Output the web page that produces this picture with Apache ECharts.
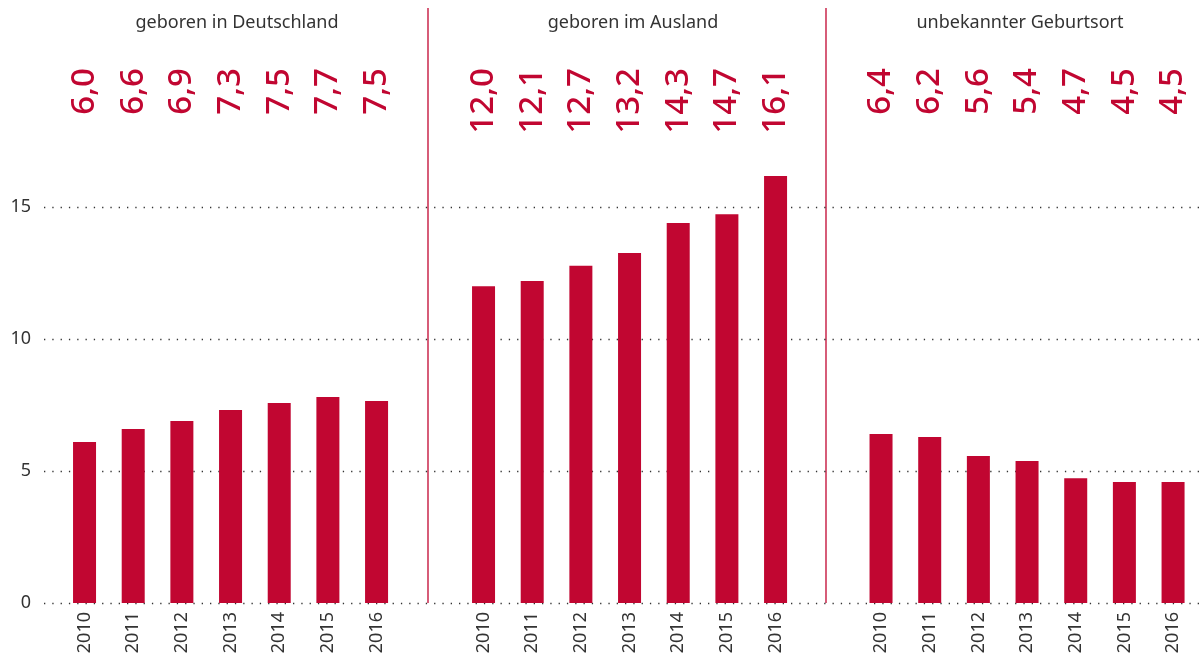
<!DOCTYPE html>
<html>
<head>
<meta charset="utf-8">
<script src="https://cdn.jsdelivr.net/npm/echarts@6/dist/echarts.min.js"></script>
<style>
html,body{margin:0;padding:0;background:#fff;}
#chart{width:1201px;height:658px;}
</style>
</head>
<body>
<div id="chart"></div>
<script>
var years = ['2010','2011','2012','2013','2014','2015','2016'];
var panelTitles = ['geboren in Deutschland','geboren im Ausland','unbekannter Geburtsort'];
var valuesDeutschland = [6.1, 6.59, 6.89, 7.31, 7.58, 7.8, 7.65];
var valuesAusland = [12.0, 12.2, 12.77, 13.26, 14.39, 14.73, 16.17];
var valuesUnbekannt = [6.4, 6.29, 5.57, 5.38, 4.73, 4.58, 4.58];
var labelsDeutschland = ['6,0','6,6','6,9','7,3','7,5','7,7','7,5'];
var labelsAusland = ['12,0','12,1','12,7','13,2','14,3','14,7','16,1'];
var labelsUnbekannt = ['6,4','6,2','5,6','5,4','4,7','4,5','4,5'];
var yTicks = [0, 5, 10, 15];

var RED = '#c10631';
var FONT = '"Noto Sans", "Open Sans", sans-serif';
var seriesValues = [valuesDeutschland, valuesAusland, valuesUnbekannt];
var seriesLabels = [labelsDeutschland, labelsAusland, labelsUnbekannt];
var gridLefts = [60.2, 459.2, 856.7];
var gridW = 340.7;
var titleCenters = [232, 628, 1015];

var chart = echarts.init(document.getElementById('chart'));

var grids = [], xAxes = [], yAxes = [], series = [], titles = [];
grids.push({left: 44, right: 0, top: 207, bottom: 55, outerBoundsMode: 'none', containLabel: false});
xAxes.push({gridIndex: 0, type: 'value', show: false, min: 0, max: 1});
yAxes.push({
  gridIndex: 0, type: 'value', min: yTicks[0], max: yTicks[yTicks.length - 1], interval: 5,
  axisLine: {show: false}, axisTick: {show: false},
  axisLabel: {color: '#333', fontSize: 18, fontFamily: FONT, margin: 13},
  splitLine: {show: true, lineStyle: {color: '#333', width: 1.3, type: [1.3, 7]}}
});

for (var i = 0; i < 3; i++) {
  var gi = i + 1;
  grids.push({left: gridLefts[i], width: gridW, top: 207, bottom: 55, outerBoundsMode: 'none', containLabel: false});
  xAxes.push({
    gridIndex: gi, type: 'category', data: years, position: 'bottom',
    axisLine: {show: false}, axisTick: {show: false},
    axisLabel: {rotate: 90, interval: 0, color: '#333', fontSize: 18, fontFamily: FONT, margin: 9}
  });
  xAxes.push({
    gridIndex: gi, type: 'category', data: seriesLabels[i], position: 'top',
    axisLine: {show: false}, axisTick: {show: false},
    axisLabel: {rotate: -90, interval: 0, align: 'right', color: RED, fontSize: 33, fontWeight: 500, fontFamily: FONT, margin: 139}
  });
  yAxes.push({gridIndex: gi, type: 'value', min: 0, max: 15, interval: 5, show: false, splitLine: {show: false}});
  series.push({
    type: 'bar', xAxisIndex: 1 + i * 2, yAxisIndex: gi, data: seriesValues[i],
    barWidth: 23, clip: false, itemStyle: {color: RED}, silent: true
  });
  titles.push({
    text: panelTitles[i], left: titleCenters[i], top: 9, textAlign: 'center',
    textStyle: {color: '#333', fontSize: 18, fontWeight: 'normal', fontFamily: FONT}
  });
}

chart.setOption({
  animation: false,
  title: titles,
  grid: grids,
  xAxis: xAxes,
  yAxis: yAxes,
  series: series,
  graphic: [
    {type: 'line', shape: {x1: 428, y1: 8, x2: 428, y2: 603}, style: {stroke: RED, lineWidth: 1.3}},
    {type: 'line', shape: {x1: 826, y1: 8, x2: 826, y2: 603}, style: {stroke: RED, lineWidth: 1.3}}
  ]
});
</script>
</body>
</html>
